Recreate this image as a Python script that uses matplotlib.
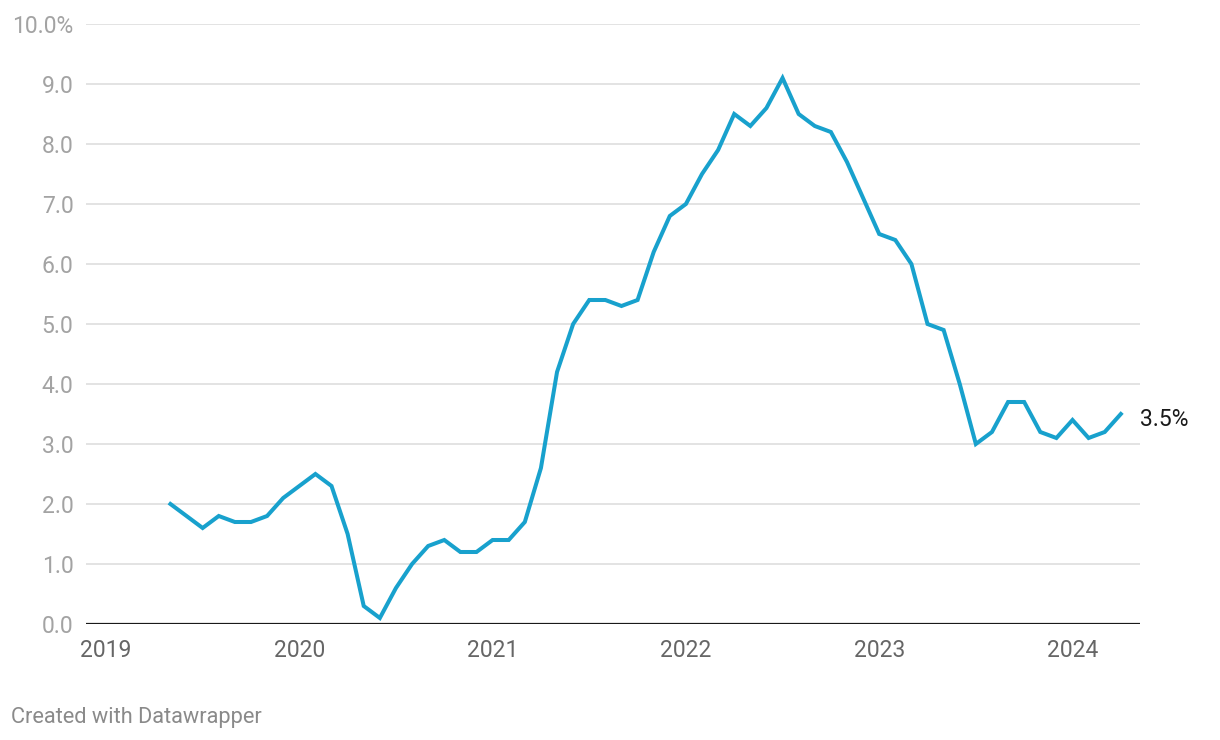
import numpy as np
import pandas as pd
import matplotlib
matplotlib.use("Agg")
import matplotlib.pyplot as plt

plt.rcParams['font.family'] = ['Roboto', 'DejaVu Sans']

# monthly inflation rate, Apr 2019 - Mar 2024
months = pd.period_range('2019-04', '2024-03', freq='M')
inflation = [2.0, 1.8, 1.6, 1.8, 1.7, 1.7, 1.8, 2.1, 2.3,
             2.5, 2.3, 1.5, 0.3, 0.1, 0.6, 1.0, 1.3, 1.4, 1.2, 1.2, 1.4,
             1.4, 1.7, 2.6, 4.2, 5.0, 5.4, 5.4, 5.3, 5.4, 6.2, 6.8, 7.0,
             7.5, 7.9, 8.5, 8.3, 8.6, 9.1, 8.5, 8.3, 8.2, 7.7, 7.1, 6.5,
             6.4, 6.0, 5.0, 4.9, 4.0, 3.0, 3.2, 3.7, 3.7, 3.2, 3.1, 3.4,
             3.1, 3.2, 3.5]
years = [2019, 2020, 2021, 2022, 2023, 2024]
yticks = [0, 1, 2, 3, 4, 5, 6, 7, 8, 9, 10]

x = np.array([m.year + m.month / 12 for m in months])

fig = plt.figure(figsize=(12.2, 7.4), dpi=100)
ax = fig.add_axes([86/1220, 116/740, (1140-86)/1220, 600/740])

for t in yticks[1:]:
    ax.axhline(t, color='#e3e3e3', lw=1.4, zorder=1)
ax.axhline(0, color='#1a1a1a', lw=1.6, zorder=3)

ax.plot(x, inflation, color='#18a1cd', lw=2.9, solid_joinstyle='miter', zorder=4)
# end label sits a few pixels below the last point
ax.annotate(f"{inflation[-1]}%", (x[-1], inflation[-1]), xytext=(19, -6),
            textcoords='offset pixels', fontsize=16.5, color='#1a1a1a',
            va='center', ha='left')

ax.set_xlim(2019 - 20/193.3, 2019 + (1140-106)/193.3)
ax.set_ylim(0, 10)
ax.set_xticks(years)
ax.set_xticklabels([str(y) for y in years], fontsize=16.5, color='#666666')
ax.set_yticks(yticks)
ax.set_yticklabels([f"{t:.1f}%" if t == 10 else f"{t:.1f}" for t in yticks],
                   fontsize=16.5, color='#a3a3a3')
ax.tick_params(axis='both', length=0)
ax.tick_params(axis='x', pad=11)
ax.tick_params(axis='y', pad=9)
for s in ax.spines.values():
    s.set_visible(False)

fig.text(11/1220, 1 - 717/740, "Created with Datawrapper", fontsize=15.7,
         color='#8a8a8a', va='center', ha='left')

fig.savefig('out.png', dpi=100)
